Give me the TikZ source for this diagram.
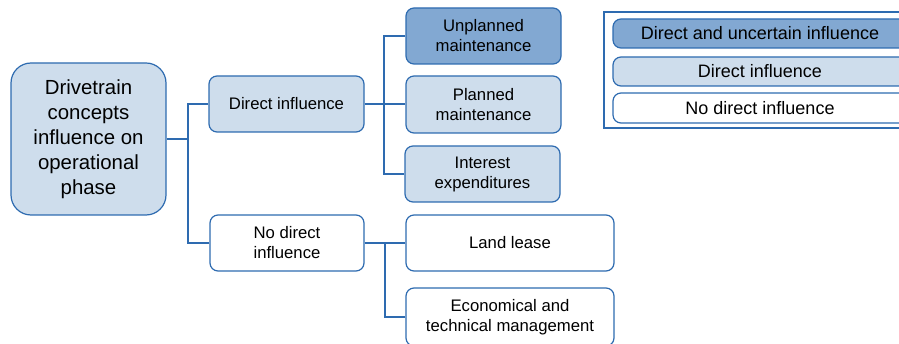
\documentclass[tikz,border=0pt]{standalone}
\usepackage{fontspec}
\setmainfont{Liberation Sans}
\definecolor{edge}{HTML}{2E6BB0}
\definecolor{lightfill}{HTML}{CEDDEC}
\definecolor{darkfill}{HTML}{82A8D2}
\tikzset{
  box/.style={draw=edge, line width=1.2pt, rounded corners=8pt, align=center, inner sep=0pt, font=\fontsize{16.7}{20}\selectfont},
  lightbox/.style={box, fill=lightfill},
  darkbox/.style={box, fill=darkfill},
  whitebox/.style={box, fill=white},
  conn/.style={draw=edge, line width=2pt},
  legbox/.style={box, font=\fontsize{18}{21}\selectfont}
}
\begin{document}
\begin{tikzpicture}[x=1pt,y=-1pt]
\useasboundingbox (0,0) rectangle (899,344);
\clip (0,0) rectangle (899,344);
% root
\node[lightbox, rounded corners=20pt, minimum width=155pt, minimum height=152pt, font=\fontsize{20.4}{25}\selectfont] (root) at (88.5,139) {Drivetrain\\concepts\\influence on\\operational\\phase};
% level 1
\node[lightbox, minimum width=155pt, minimum height=56pt] (direct) at (286.5,104) {Direct influence};
\node[whitebox, minimum width=154pt, minimum height=56pt] (nodir) at (287,243) {No direct\\influence};
% level 2
\node[darkbox, minimum width=155pt, minimum height=56pt] (unpl) at (483.5,36) {Unplanned\\maintenance};
\node[lightbox, minimum width=155pt, minimum height=57pt] (plan) at (483.5,104.5) {Planned\\maintenance};
\node[lightbox, minimum width=155pt, minimum height=56pt] (intr) at (482.5,174) {Interest\\expenditures};
\node[whitebox, minimum width=208pt, minimum height=56pt] (land) at (510,243) {Land lease};
\node[whitebox, minimum width=208pt, minimum height=58pt] (econ) at (510,317) {Economical and\\technical management};
% connectors
\draw[conn] (root.east) -- (188,139) coordinate (j1);
\draw[conn] (direct.west) -| (j1);
\draw[conn] (nodir.west) -| (j1);
\draw[conn] (direct.east) -- (384,104) coordinate (j2);
\draw[conn] (unpl.west) -| (j2);
\draw[conn] (plan.west) -| (j2);
\draw[conn] (intr.west) -| (j2);
\draw[conn] (nodir.east) -- (385,243) coordinate (j3);
\draw[conn] (land.west) -| (j3);
\draw[conn] (econ.west) -| (j3);
% legend
\node[draw=edge, line width=1.2pt, minimum width=311pt, minimum height=116pt, inner sep=0pt] (legend) at (759.5,70) {};
\node[legbox, fill=darkfill, minimum width=294pt, minimum height=29pt] (l1) at (760,33.5) {Direct and uncertain influence};
\node[legbox, fill=lightfill, minimum width=294pt, minimum height=29pt] (l2) at (760,71.5) {Direct influence};
\node[legbox, fill=white, minimum width=294pt, minimum height=30pt] (l3) at (760,108) {No direct influence};
\end{tikzpicture}
\end{document}
